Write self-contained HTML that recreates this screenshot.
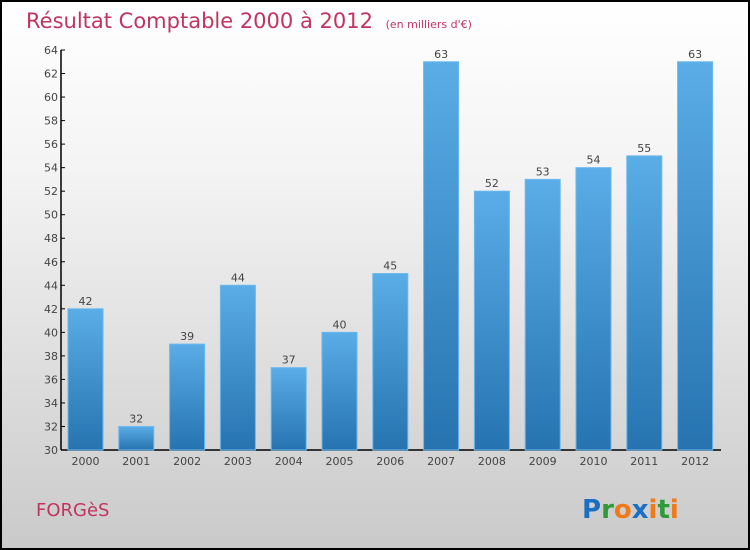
<!DOCTYPE html>
<html><head><meta charset="utf-8"><style>
body{margin:0}
#c{position:relative;width:746px;height:546px;border:2px solid #000;background:linear-gradient(#ffffff,#f4f4f4 30%,#cacaca);overflow:hidden;font-family:"DejaVu Sans","Liberation Sans",sans-serif}
</style></head><body>
<div id="c">
<svg id="s" width="746" height="546">
<defs><linearGradient id="g" x1="0" y1="0" x2="0" y2="1"><stop offset="0" stop-color="#5aade6"/><stop offset="1" stop-color="#2673b0"/></linearGradient></defs>
<text x="24" y="26" font-size="21" fill="#c0345f">Résultat Comptable 2000 à 2012 <tspan font-size="11" dx="6">(en milliers d'€)</tspan></text>
<text x="34" y="514" font-size="18" fill="#c0345f">FORGèS</text>
<text x="580" y="516" font-size="26" font-weight="bold"><tspan fill="#1b6fc2">P</tspan><tspan fill="#2e9a3a">r</tspan><tspan fill="#f07a18">o</tspan><tspan fill="#1b6fc2">x</tspan><tspan fill="#f07a18">i</tspan><tspan fill="#2e9a3a">t</tspan><tspan fill="#f07a18">i</tspan></text>
<g id="plot"></g>
</svg></div>
<script>
const categories=["2000","2001","2002","2003","2004","2005","2006","2007","2008","2009","2010","2011","2012"];
const values=[42,32,39,44,37,40,45,63,52,53,54,55,63];
const yTicks=[30,32,34,36,38,40,42,44,46,48,50,52,54,56,58,60,62,64];
const ns="http://www.w3.org/2000/svg",g=document.getElementById('plot');
const ox=-2,oy=-2;
const y=v=>oy+450-(v-30)/34*400;
const x=i=>ox+85.5+i*50.8;
function el(t,a){const e=document.createElementNS(ns,t);for(const k in a)e.setAttribute(k,a[k]);g.appendChild(e);return e;}
const ax=el('line',{x1:ox+61,y1:y(64),x2:ox+61,y2:y(30),stroke:'#000','stroke-width':1.5});

const bx=el('line',{x1:ox+61,y1:y(30),x2:ox+721,y2:y(30),stroke:'#000','stroke-width':1.5});

yTicks.forEach(v=>{
 const t=el('line',{x1:ox+61,x2:ox+65,y1:y(v),y2:y(v),stroke:'#000'});
 
 const l=el('text',{x:ox+58,y:y(v)+4,'text-anchor':'end','font-size':11,fill:'#444'});l.textContent=v;
 
});
categories.forEach((c,i)=>{
 const v=values[i];
 const r=el('rect',{x:x(i)-17.5,y:y(v),width:35,height:y(30)-y(v),fill:'url(#g)',stroke:'#6ab8ee','stroke-width':1});
 
 const t=el('text',{x:x(i),y:y(v)-4,'text-anchor':'middle','font-size':11,fill:'#444'});t.textContent=v;
 
 const l=el('text',{x:x(i),y:y(30)+15,'text-anchor':'middle','font-size':11,fill:'#444'});l.textContent=c;
 
});
</script></body></html>
